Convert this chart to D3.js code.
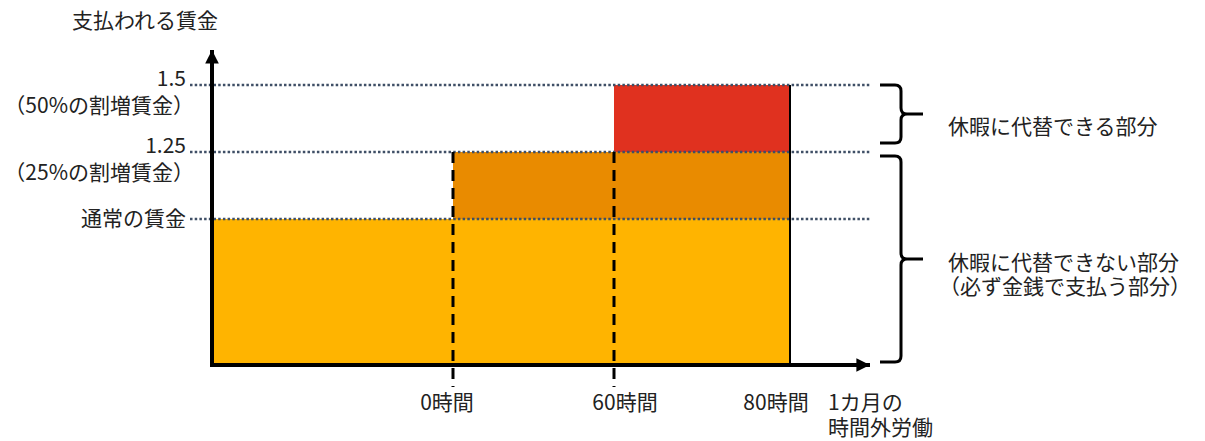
<!DOCTYPE html>
<html>
<head>
<meta charset="utf-8">
<style>
body { margin: 0; background: #fff; }
text { font-family: "Noto Sans CJK JP", sans-serif; font-size: 21px; fill: #222; }
</style>
<title>時間外労働の割増賃金</title>
</head>
<body>
<script src="https://cdn.jsdelivr.net/npm/d3@7"></script>
<script>

// --- data ---
var hours = [0, 60, 80];
var hourLabels = ["0時間", "60時間", "80時間"];
var xTitle = ["1カ月の", "時間外労働"];
var yTitle = "支払われる賃金";

var wageLevels = [1, 1.25, 1.5];
var wageLabels = ["通常の賃金", "1.25", "1.5"];
var noteLevels = [1.25, 1.5];
var noteLabels = ["（25%の割増賃金）", "（50%の割増賃金）"];

// blocks: from hour, to hour, low wage, high wage
var blockFrom = [-90, 0, 60];
var blockTo = [80, 80, 80];
var blockLow = [0, 1, 1.25];
var blockHigh = [1, 1.25, 1.5];
var blockColors = ["#FFB400", "#E98B00", "#E0311F"];

var braceLow = [1.25, 0];
var braceHigh = [1.5, 1.25];
var braceTexts = [["休暇に代替できる部分"], ["休暇に代替できない部分", "（必ず金銭で支払う部分）"]];

// --- layout ---
var width = 1205, height = 441;
var hourLabelDx = [-6, 11, -14];

var svg = d3.select("body").append("svg")
	.attr("width", width)
	.attr("height", height);

// schematic (not to scale) axes
var x = d3.scaleLinear()
	.domain([-90, 0, 60, 80])
	.range([212, 453, 614, 790]);

var y = d3.scaleLinear()
	.domain([0, 1, 1.5])
	.range([365, 219, 85]);

var xEnd = 870, yTop = 50;

// blocks
svg.selectAll("rect.block")
	.data(blockFrom)
	.enter().append("rect")
	.attr("class", "block")
	.attr("x", function(d) { return x(d); })
	.attr("y", function(d, i) { return y(blockHigh[i]); })
	.attr("width", function(d, i) { return x(blockTo[i]) - x(d); })
	.attr("height", function(d, i) { return y(blockLow[i]) - y(blockHigh[i]); })
	.style("fill", function(d, i) { return blockColors[i]; });

// dotted guide lines
svg.selectAll("line.guide")
	.data(wageLevels)
	.enter().append("line")
	.attr("class", "guide")
	.attr("x1", 190)
	.attr("x2", xEnd)
	.attr("y1", function(d) { return y(d); })
	.attr("y2", function(d) { return y(d); })
	.style("stroke", "#3F4F66")
	.style("stroke-width", 2.5)
	.style("stroke-dasharray", "2.5,2.2");

// right edge of the blocks
svg.append("line")
	.attr("x1", x(80)).attr("x2", x(80))
	.attr("y1", y(1.5)).attr("y2", y(0))
	.style("stroke", "#000")
	.style("stroke-width", 2);

// dashed hour markers
svg.selectAll("line.mark")
	.data(hours.slice(0, 2))
	.enter().append("line")
	.attr("class", "mark")
	.attr("x1", function(d) { return x(d); })
	.attr("x2", function(d) { return x(d); })
	.attr("y1", y(1.25))
	.attr("y2", y(0) + 22)
	.style("stroke", "#000")
	.style("stroke-width", 3)
	.style("stroke-dasharray", "11,7");

// axes with arrows
var defs = svg.append("defs");
defs.append("marker")
	.attr("id", "arrow")
	.attr("viewBox", "0 0 10 10")
	.attr("refX", 10).attr("refY", 5)
	.attr("markerWidth", 4).attr("markerHeight", 3.4)
	.attr("markerUnits", "strokeWidth")
	.attr("orient", "auto")
	.append("path")
	.attr("d", "M0,0L10,5L0,10z")
	.style("fill", "#000");

svg.append("line")
	.attr("x1", x(-90)).attr("x2", x(-90))
	.attr("y1", y(0) + 2).attr("y2", yTop)
	.style("stroke", "#000").style("stroke-width", 4)
	.attr("marker-end", "url(#arrow)");

svg.append("line")
	.attr("x1", x(-90) - 2).attr("x2", xEnd)
	.attr("y1", y(0)).attr("y2", y(0))
	.style("stroke", "#000").style("stroke-width", 4)
	.attr("marker-end", "url(#arrow)");

// y labels
svg.append("text")
	.attr("x", 72).attr("y", 28)
	.text(yTitle);

svg.selectAll("text.wage")
	.data(wageLevels)
	.enter().append("text")
	.attr("class", "wage")
	.attr("x", 186)
	.attr("y", function(d, i) { return isNaN(+wageLabels[i]) ? y(d) + 7 : y(d) + 1; })
	.attr("text-anchor", "end")
	.text(function(d, i) { return wageLabels[i]; });

svg.selectAll("text.note")
	.data(noteLevels)
	.enter().append("text")
	.attr("class", "note")
	.attr("x", 194)
	.attr("y", function(d) { return y(d) + 28; })
	.attr("text-anchor", "end")
	.text(function(d, i) { return noteLabels[i]; });

// x labels
svg.selectAll("text.hour")
	.data(hours)
	.enter().append("text")
	.attr("class", "hour")
	.attr("x", function(d, i) { return x(d) + hourLabelDx[i]; })
	.attr("y", 410)
	.attr("text-anchor", "middle")
	.text(function(d, i) { return hourLabels[i]; });

svg.selectAll("text.xtitle")
	.data(xTitle)
	.enter().append("text")
	.attr("class", "xtitle")
	.attr("x", 828)
	.attr("y", function(d, i) { return 410 + i * 25; })
	.text(function(d) { return d; });

// braces
function brace(x0, y0, y1) {
	var xv = x0 + 21, r = 6, tip = x0 + 43, ym = (y0 + y1) / 2;
	return "M" + x0 + "," + y0 +
		"L" + (xv - r) + "," + y0 +
		"Q" + xv + "," + y0 + " " + xv + "," + (y0 + r) +
		"L" + xv + "," + (ym - r) +
		"Q" + xv + "," + ym + " " + (xv + r) + "," + ym +
		"L" + tip + "," + ym +
		"M" + (xv + r) + "," + ym +
		"Q" + xv + "," + ym + " " + xv + "," + (ym + r) +
		"L" + xv + "," + (y1 - r) +
		"Q" + xv + "," + y1 + " " + (xv - r) + "," + y1 +
		"L" + x0 + "," + y1;
}

svg.selectAll("path.brace")
	.data(braceLow)
	.enter().append("path")
	.attr("class", "brace")
	.attr("d", function(d, i) { return brace(880, y(braceHigh[i]) + (i ? 4 : 0), y(d) - (i ? 3 : 9)); })
	.style("fill", "none")
	.style("stroke", "#000")
	.style("stroke-width", 3);

braceTexts.forEach(function(lines, i) {
	var mid = (y(braceHigh[i]) + y(braceLow[i])) / 2;
	svg.selectAll("text.b" + i)
		.data(lines)
		.enter().append("text")
		.attr("x", function(d) { return d.charAt(0) === "（" ? 939 : 948; })
		.attr("y", function(d, j) { return mid + 15 + j * 24 - (lines.length - 1) * 4; })
		.text(function(d) { return d; });
});

</script>
</body>
</html>
